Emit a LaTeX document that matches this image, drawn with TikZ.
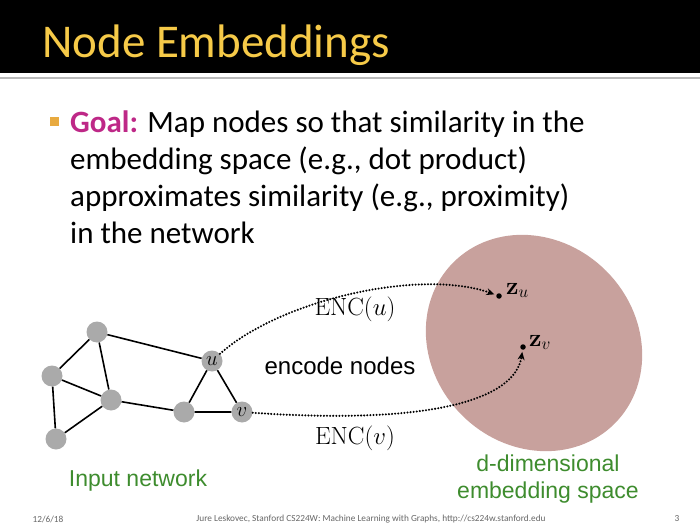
\documentclass[tikz,border=0pt]{standalone}
\usepackage[no-math]{fontspec}
\setmainfont{Carlito}
\newfontfamily\helv{Liberation Sans}
\usetikzlibrary{arrows.meta}

\definecolor{titlegold}{RGB}{246,202,72}
\definecolor{goalpink}{RGB}{190,40,135}
\definecolor{bulletorange}{RGB}{232,170,64}
\definecolor{spacerose}{RGB}{200,161,157}
\definecolor{nodegray}{RGB}{170,170,170}
\definecolor{labelgreen}{RGB}{62,140,46}

\begin{document}
\begin{tikzpicture}[x=1pt,y=1pt,
  vtx/.style={circle,fill=nodegray,minimum size=21pt,inner sep=0pt,font=\fontsize{21}{21}\selectfont},
  edge/.style={line width=1.6pt},
  emb/.style={circle,fill=black,minimum size=5.5pt,inner sep=0pt},
  enc/.style={line width=2.3pt,line cap=round,dash pattern=on 0pt off 3.1pt,
    -{Stealth[length=8pt,width=7pt]},shorten >=2pt},
  bodyline/.style={anchor=base west,inner sep=0pt,font=\fontsize{31}{31}\selectfont},
  greentext/.style={text=labelgreen,font=\helv\fontsize{23}{27}\selectfont,align=center},
  foot/.style={text=black!60,font=\fontsize{9.3}{10}\selectfont}]
  \useasboundingbox (0,0) rectangle (700,525);

  % title bar
  \fill[black] (0,452) rectangle (700,525);
  \draw[gray!55,line width=2.5pt] (0,447) -- (700,447);
  \node[anchor=base west,inner sep=0pt,text=titlegold,font=\fontsize{47}{47}\selectfont] (title) at (42,467) {Node Embeddings};

  % bullet text
  \fill[bulletorange] (50,399) rectangle (59,408);
  \node[bodyline] (goal1) at (70,392) {\textcolor{goalpink}{\bfseries Goal:} Map nodes so that similarity in the};
  \node[bodyline] (goal2) at (70,355) {embedding space (e.g., dot product)};
  \node[bodyline] (goal3) at (70,318) {approximates similarity (e.g., proximity)};
  \node[bodyline] (goal4) at (70,281) {in the network};

  % embedding space
  \fill[spacerose,rotate around={45:(534,182)}] (534,182) ellipse [x radius=102,y radius=114];

  % input network
  \node[vtx] (a) at (97,193) {};
  \node[vtx] (b) at (52,149) {};
  \node[vtx] (c) at (111,125) {};
  \node[vtx] (d) at (56,86) {};
  \node[vtx] (e) at (184,113) {};
  \node[vtx] (u) at (212,164) {$u$};
  \node[vtx] (v) at (242,113) {$v$};
  \draw[edge] (a) -- (b) (a) -- (c) (a) -- (u) (b) -- (c) (b) -- (d)
    (d) -- (c) (c) -- (e) (e) -- (u) (e) -- (v) (u) -- (v);

  % embedded points
  \node[emb] (zu) at (499,229) {};
  \node[emb] (zv) at (523,178) {};
  \node[anchor=base west,inner sep=0pt,font=\fontsize{24}{24}\selectfont] (zulab) at (506,231) {$\mathbf{z}_u$};
  \node[anchor=base west,inner sep=0pt,font=\fontsize{24}{24}\selectfont] (zvlab) at (529,179) {$\mathbf{z}_v$};

  % encoder arrows
  \draw[enc] (u) .. controls (280,225) and (420,257) .. (zu);
  \draw[enc] (v) .. controls (430,100) and (515,125) .. (zv);
  \node[font=\fontsize{27}{27}\selectfont] (encu) at (355,216) {$\mathrm{ENC}(u)$};
  \node[font=\fontsize{27}{27}\selectfont] (encv) at (355,87) {$\mathrm{ENC}(v)$};
  \node[font=\helv\fontsize{24}{24}\selectfont] (encode) at (340,159) {encode nodes};

  % captions
  \node[greentext] (netlab) at (138,44) {Input network};
  \node[greentext] (spacelab) at (548,46) {d-dimensional\\embedding space};

  % footer
  \node[foot] (date) at (48,6) {12/6/18};
  \node[foot] (credit) at (371,6) {Jure Leskovec, Stanford CS224W: Machine Learning with Graphs, http://cs224w.stanford.edu};
  \node[foot] (page) at (677,6) {3};
\end{tikzpicture}
\end{document}
